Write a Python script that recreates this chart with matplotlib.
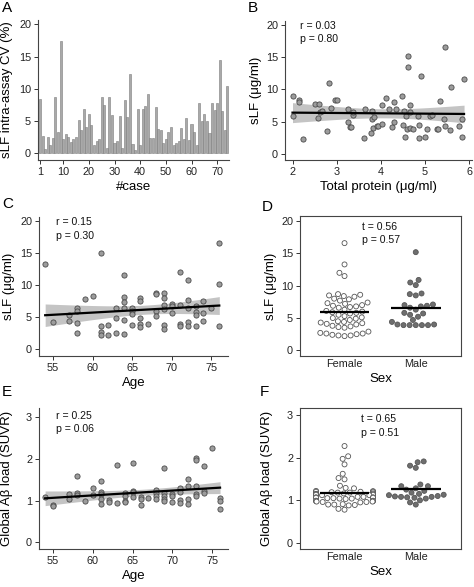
import matplotlib
matplotlib.use('Agg')
import matplotlib.pyplot as plt
import numpy as np
import pandas as pd
import seaborn as sns

# panel A: intra-assay CV per case
cv_case = np.arange(1, 75)
cv_vals = [8.4, 2.7, 0.6, 2.5, 1.2, 2.3, 8.7, 3.2, 17.5, 2.1,
           2.9, 2.5, 1.7, 2.1, 2.5, 5.1, 3.6, 6.9, 4.0, 6.1,
           4.4, 1.2, 1.9, 2.1, 8.7, 7.5, 0.8, 8.7, 5.9, 1.6,
           1.9, 5.7, 0.8, 8.3, 5.6, 12.3, 1.4, 0.4, 6.8, 1.2,
           6.8, 7.3, 9.1, 2.3, 2.3, 7.1, 3.7, 3.5, 1.6, 2.2,
           3.3, 4.1, 1.2, 1.5, 1.9, 3.9, 2.2, 5.4, 2.0, 4.5,
           3.2, 1.3, 7.7, 4.9, 6.1, 4.9, 3.1, 7.8, 6.7, 7.8,
           14.5, 6.6, 3.6, 10.4]

# panel B: total protein vs sLF
prot_x = [2.0, 2.01, 2.14, 2.14, 2.24, 2.5, 2.59, 2.57, 2.62, 2.67,
          2.78, 2.82, 2.87, 2.97, 3.01, 3.25, 3.25, 3.31, 3.33, 3.37,
          3.36, 3.62, 3.63, 3.79, 3.8, 3.83, 3.77, 3.85, 3.92, 3.94,
          4.03, 4.11, 4.03, 4.19, 4.24, 4.29, 4.3, 4.34, 4.48, 4.5,
          4.53, 4.54, 4.57, 4.58, 4.61, 4.62, 4.65, 4.65, 4.66, 4.72,
          4.83, 4.85, 4.86, 4.9, 4.99, 5.05, 5.11, 5.15, 5.27, 5.29,
          5.34, 5.43, 5.44, 5.46, 5.56, 5.59, 5.77, 5.83, 5.84, 5.88]
prot_slf = [8.9, 5.9, 8.4, 8.1, 2.3, 7.7, 7.8, 5.5, 6.5, 6.6,
            3.5, 10.9, 7.1, 8.3, 8.4, 6.9, 5.0, 4.1, 4.2, 6.0,
            6.5, 2.5, 6.9, 6.6, 5.4, 4.0, 3.2, 5.7, 4.4, 4.4,
            4.7, 8.7, 7.5, 7.0, 4.1, 8.0, 4.9, 6.9, 8.9, 4.5,
            6.6, 2.7, 5.8, 3.9, 13.4, 15.2, 7.5, 6.5, 4.0, 3.9,
            5.8, 4.5, 2.4, 12.1, 2.7, 3.8, 5.8, 6.0, 3.9, 3.8,
            8.2, 5.4, 16.6, 4.3, 3.7, 10.4, 4.4, 5.4, 2.6, 11.6]

# panel C: age vs sLF
age_c = [54, 55, 57, 57, 58, 58, 58, 58, 59, 60, 61, 61, 61, 61, 62, 62,
         63, 63, 63, 64, 64, 64, 64, 64, 64, 65, 65, 65, 65, 66, 66, 66,
         66, 66, 67, 68, 68, 68, 68, 69, 69, 69, 69, 69, 69, 70, 70, 70,
         71, 71, 71, 71, 72, 72, 72, 72, 72, 73, 73, 73, 73, 74, 74, 74,
         75, 76, 76, 76]
slf_c = [13.3, 4.2, 5.3, 4.4, 6.4, 5.9, 4.1, 2.5, 7.9, 8.3, 15.0, 3.7,
         2.7, 2.2, 3.8, 2.2, 6.5, 4.9, 2.6, 11.5, 8.1, 7.4, 6.5, 4.5,
         2.4, 6.5, 5.9, 5.5, 3.8, 8.0, 7.5, 4.8, 3.9, 3.4, 3.9, 8.8,
         8.6, 5.9, 5.2, 8.8, 8.0, 6.9, 6.3, 3.8, 3.1, 7.0, 6.8, 5.6,
         12.0, 6.9, 4.0, 3.6, 10.8, 7.7, 6.5, 4.2, 3.7, 6.8, 5.8, 5.3,
         3.7, 7.5, 5.7, 4.4, 6.4, 16.5, 10.2, 3.7]

# panel D: sLF by sex
slf_female = [16.6, 13.3, 12.0, 11.5,
              8.7, 8.6, 8.5, 8.4, 8.3, 8.0, 7.9, 7.7, 7.4, 7.3, 7.2,
              7.0, 6.9, 6.8, 6.7, 6.6, 6.3, 6.1, 6.0, 5.9, 5.8, 5.7,
              5.5, 5.3, 5.1, 5.0, 4.9, 4.7, 4.5, 4.4, 4.3, 4.2, 4.1, 4.0,
              3.8, 3.7, 3.6, 3.5, 2.9, 2.7, 2.6, 2.6, 2.5, 2.4, 2.3, 2.3, 2.2]
slf_male = [15.2, 10.9, 10.5, 10.1, 8.8, 8.7, 8.5, 7.1, 7.0, 6.9, 6.8,
            6.6, 6.3, 5.8, 5.7, 5.5, 5.2, 4.7, 4.4, 4.0, 4.0, 3.9, 3.9,
            3.9, 3.9, 3.9]

# panel E: age vs global amyloid load
age_e = [54, 55, 55, 57, 57, 58, 58, 58, 59, 60, 60, 61, 61, 61, 61, 61,
         62, 62, 63, 63, 64, 64, 64, 64, 65, 65, 65, 65, 66, 66, 66, 67,
         68, 68, 68, 68, 69, 69, 69, 69, 69, 70, 70, 70, 71, 71, 71, 71,
         72, 72, 72, 72, 73, 73, 73, 73, 73, 74, 74, 74, 75, 76, 76, 76]
suvr_e = [1.08, 0.9, 0.88, 1.15, 1.03, 1.6, 1.18, 1.14, 1.0, 1.31, 1.13,
          1.48, 1.2, 1.15, 1.03, 0.92, 1.02, 0.96, 1.85, 0.94, 1.18, 1.11,
          1.0, 0.96, 1.9, 1.23, 1.2, 1.08, 1.08, 1.03, 0.9, 1.06, 1.26,
          1.18, 1.11, 1.03, 1.78, 1.18, 1.1, 1.03, 0.98, 1.15, 1.12, 0.97,
          1.31, 1.21, 1.02, 0.94, 1.51, 1.35, 1.03, 0.92, 2.02, 1.96, 1.34,
          1.16, 1.11, 1.83, 1.22, 1.18, 2.25, 1.06, 0.98, 0.8]

# panel F: amyloid load by sex
suvr_female = [2.27, 2.03, 1.97, 1.84, 1.62, 1.52, 1.49, 1.34, 1.29, 1.28,
               1.22, 1.21, 1.21, 1.20, 1.20, 1.19, 1.19, 1.18, 1.18,
               1.16, 1.16, 1.15, 1.15, 1.14, 1.14, 1.13, 1.13, 1.12, 1.12,
               1.08, 1.08, 1.07, 1.07, 1.06, 1.06, 1.05, 1.05, 1.04, 1.04, 1.03,
               0.99, 0.99, 0.98, 0.98, 0.97, 0.97, 0.96, 0.96, 0.95,
               0.91, 0.90, 0.90, 0.89, 0.88, 0.80, 0.78]
suvr_male = [1.91, 1.89, 1.81, 1.76, 1.37, 1.33, 1.33, 1.28, 1.25, 1.22,
             1.18, 1.15, 1.13, 1.12, 1.10, 1.09, 1.08, 1.08, 1.07,
             1.06, 1.04, 1.00, 0.95, 0.90]

sexes = ['Female', 'Male']

plt.rcParams['font.family'] = ['Liberation Sans', 'DejaVu Sans']
W, H = 474, 587
fig = plt.figure(figsize=(W / 100, H / 100), dpi=100)


def px_axes(l, t, r, b):
    return fig.add_axes([l / W, 1 - b / H, (r - l) / W, (b - t) / H])


def style(ax, box=False):
    for s in ['top', 'right']:
        ax.spines[s].set_visible(box)
    for s in ax.spines.values():
        s.set_color('#444444')
        s.set_linewidth(0.8)
    ax.tick_params(direction='out', length=3, width=0.7, colors='#333333',
                   labelsize=7.8, pad=2)
    ax.tick_params(labelcolor='#222222')


def fig_text(x, y, s, **kw):
    fig.text(x / W, 1 - y / H, s, **kw)


def regline(ax, x, y):
    x = np.asarray(x, float)
    y = np.asarray(y, float)
    b, a = np.polyfit(x, y, 1)
    xs = np.linspace(x.min(), x.max(), 100)
    yh = a + b * xs
    n = len(x)
    resid = y - (a + b * x)
    s = np.sqrt(np.sum(resid ** 2) / (n - 2))
    se = s * np.sqrt(1 / n + (xs - x.mean()) ** 2 / np.sum((x - x.mean()) ** 2))
    ax.fill_between(xs, yh - 1.99 * se, yh + 1.99 * se, color='#c4c4c4',
                    lw=0, zorder=1)
    ax.scatter(x, y, s=14, facecolor='#9c9c9c', edgecolor='#4a4a4a',
               linewidth=0.6, zorder=2)
    ax.plot(xs, yh, color='black', lw=1.6, zorder=3)


def swarm(ax, fem, mal):
    df = pd.DataFrame({'sex': ['Female'] * len(fem) + ['Male'] * len(mal),
                       'val': list(fem) + list(mal)})
    sns.swarmplot(data=df, x='sex', y='val', hue='sex', order=sexes,
                  palette={'Female': 'white', 'Male': '#6e6e6e'},
                  size=3.6, linewidth=0.6, edgecolor='#555555',
                  legend=False, ax=ax)
    for i, v in enumerate([fem, mal]):
        ax.hlines(np.mean(v), i - 0.35, i + 0.35, color='black', lw=1.6,
                  zorder=5)


# A
axA = px_axes(38, 20, 229, 160)
axA.bar(cv_case, cv_vals, width=0.8, color='#a9a9a9', edgecolor='#7d7d7d',
        linewidth=0.4)
axA.set_xlim(0.2, 74.6)
axA.set_ylim(-1.1, 20.7)
axA.set_xticks([1, 10, 20, 30, 40, 50, 60, 70])
axA.set_yticks([0, 5, 10, 15, 20])
axA.set_xlabel('#case', fontsize=9.5, labelpad=3)
axA.set_ylabel('sLF intra-assay CV (%)', fontsize=9.5, labelpad=4)
style(axA)

# B
axB = px_axes(285, 21, 472, 160)
regline(axB, prot_x, prot_slf)
axB.set_xlim(1.83, 6.06)
axB.set_ylim(-0.93, 20.56)
axB.set_xticks([2, 3, 4, 5, 6])
axB.set_yticks([0, 5, 10, 15, 20])
axB.set_xlabel('Total protein (\u03bcg/ml)', fontsize=9.5, labelpad=3)
axB.set_ylabel('sLF (\u03bcg/ml)', fontsize=9.5, labelpad=3)
style(axB)

# C
axC = px_axes(39, 217, 228, 356)
regline(axC, age_c, slf_c)
axC.set_xlim(53.22, 77.1)
axC.set_ylim(-1.04, 20.6)
axC.set_xticks([55, 60, 65, 70, 75])
axC.set_yticks([0, 5, 10, 15, 20])
axC.set_xlabel('Age', fontsize=9.5, labelpad=3)
axC.set_ylabel('sLF (\u03bcg/ml)', fontsize=9.5, labelpad=3.5)
style(axC)

# D
axD = px_axes(300, 216, 461, 356)
swarm(axD, slf_female, slf_male)
axD.set_xlim(-0.625, 1.635)
axD.set_ylim(-0.88, 20.8)
axD.set_yticks([0, 5, 10, 15, 20])
axD.set_xlabel('Sex', fontsize=9.5, labelpad=3)
axD.set_ylabel('sLF (\u03bcg/ml)', fontsize=9.5, labelpad=3)
style(axD, box=True)
axD.tick_params(axis='x', length=0)

# E
axE = px_axes(39, 408, 228, 549)
regline(axE, age_e, suvr_e)
axE.set_xlim(53.23, 77.0)
axE.set_ylim(-0.158, 3.215)
axE.set_xticks([55, 60, 65, 70, 75])
axE.set_yticks([0, 1, 2, 3])
axE.set_xlabel('Age', fontsize=9.5, labelpad=3)
axE.set_ylabel('Global A\u03b2 load (SUVR)', fontsize=9.5, labelpad=9)
style(axE)

# F
axF = px_axes(300, 408, 461, 549)
swarm(axF, suvr_female, suvr_male)
axF.set_xlim(-0.625, 1.635)
axF.set_ylim(-0.14, 3.16)
axF.set_yticks([0, 1, 2, 3])
axF.set_xlabel('Sex', fontsize=9.5, labelpad=3)
axF.set_ylabel('Global A\u03b2 load (SUVR)', fontsize=9.5, labelpad=10)
style(axF, box=True)
axF.tick_params(axis='x', length=0)

# stats text
kw = dict(fontsize=7.6, va='center', ha='left', color='#111111')
fig_text(300, 26, 'r = 0.03', **kw)
fig_text(300, 39.5, 'p = 0.80', **kw)
fig_text(56, 222, 'r = 0.15', **kw)
fig_text(56, 236, 'p = 0.30', **kw)
fig_text(362, 227, 't = 0.56', **kw)
fig_text(362, 240, 'p = 0.57', **kw)
fig_text(56, 416, 'r = 0.25', **kw)
fig_text(56, 429.5, 'p = 0.06', **kw)
fig_text(361, 419.5, 't = 0.65', **kw)
fig_text(361, 433, 'p = 0.51', **kw)

# panel letters
lk = dict(fontsize=11, va='center', ha='left')
fig_text(2, 8, 'A', **lk)
fig_text(248, 8, 'B', **lk)
fig_text(2, 204, 'C', **lk)
fig_text(262, 207, 'D', **lk)
fig_text(2, 392, 'E', **lk)
fig_text(260, 392, 'F', **lk)

fig.savefig('out.png', dpi=100)
